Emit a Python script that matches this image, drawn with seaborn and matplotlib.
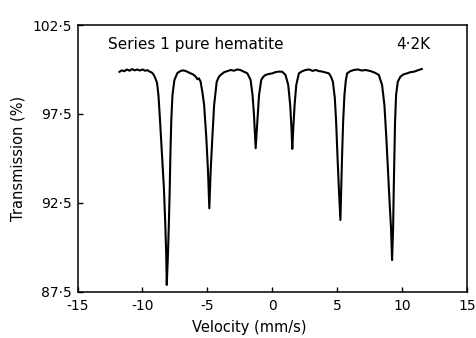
import matplotlib
matplotlib.use("Agg")
import matplotlib.pyplot as plt
import seaborn as sns
import pandas as pd

# Data (velocity in mm/s, transmission in %)
velocity = [
    -11.79, -11.6, -11.4, -11.2, -11.0, -10.8, -10.6, -10.4, -10.2, -10.0, -9.8, -9.62,
    -9.45, -9.31, -9.18, -9.08, -8.98, -8.88, -8.77, -8.65, -8.50, -8.35, -8.25, -8.17,
    -8.13, -8.04, -7.96, -7.90, -7.85, -7.78, -7.69, -7.54, -7.31, -7.1,
    -6.9, -6.7, -6.54, -6.35, -6.1, -5.9, -5.77,
    -5.65, -5.52, -5.38, -5.25, -5.08, -4.95, -4.85, -4.75, -4.62, -4.48, -4.28, -4.1,
    -3.98, -3.7, -3.46, -3.2, -2.95, -2.7, -2.46, -2.2, -1.92, -1.67, -1.52, -1.41,
    -1.28, -1.15, -1.02, -0.85, -0.68, -0.52, -0.25, 0.0, 0.25, 0.5, 0.77, 1.02, 1.23,
    1.38, 1.48, 1.54, 1.62, 1.72, 1.85, 2.05, 2.3, 2.56, 2.85, 3.1, 3.35, 3.59, 3.85,
    4.1, 4.36, 4.52, 4.67, 4.82, 4.92, 5.02, 5.13, 5.25, 5.31, 5.38, 5.46, 5.56, 5.67,
    5.77, 6.0, 6.28, 6.6, 6.9, 7.2, 7.56, 7.9, 8.21, 8.46, 8.64, 8.79, 8.92, 9.05, 9.15,
    9.23, 9.31, 9.36, 9.41, 9.46, 9.54, 9.67, 9.87, 10.1, 10.38, 10.65, 10.9, 11.2, 11.54,
]
transmission = [
    99.86, 99.95, 99.90, 100.0, 99.93, 100.02, 99.95, 100.0, 99.94, 100.0, 99.93, 99.96,
    99.88, 99.84, 99.75, 99.62, 99.45, 99.25, 98.56, 97.16, 95.19, 93.33, 91.42, 89.56,
    87.88, 89.56, 91.53, 93.33, 95.19, 97.16, 98.56, 99.41, 99.80, 99.90,
    99.95, 99.92, 99.87, 99.80, 99.72, 99.60, 99.45,
    99.50, 99.31, 98.70, 98.00, 96.14, 94.25, 92.19, 94.25, 96.14, 98.00, 99.31, 99.60,
    99.69, 99.85, 99.91, 99.97, 99.93, 100.0, 99.97, 99.88, 99.78, 99.41, 98.56, 97.44,
    95.57, 97.06, 98.56, 99.41, 99.60, 99.69, 99.75, 99.78, 99.85, 99.88, 99.87, 99.69, 99.13,
    98.00, 96.69, 95.53, 96.69, 98.00, 99.13, 99.78, 99.90, 99.97, 100.0, 99.92, 99.97, 99.91, 99.88,
    99.83, 99.78, 99.60, 99.31, 98.38, 97.06, 95.19, 93.33, 91.53, 93.33, 95.19, 97.06, 98.56, 99.41,
    99.78, 99.90, 99.97, 100.0, 99.94, 99.97, 99.91, 99.82, 99.69, 99.13, 98.00, 96.14, 94.25, 92.38, 91.08,
    89.28, 91.08, 93.33, 95.19, 97.06, 98.56, 99.31, 99.59, 99.72, 99.78, 99.85, 99.87, 99.95, 100.03,
]

x_ticks = [-15, -10, -5, 0, 5, 10, 15]
x_tick_labels = ["-15", "-10", "-5", "0", "5", "10", "15"]
y_ticks = [87.5, 92.5, 97.5, 102.5]
y_tick_labels = ["87·5", "92·5", "97·5", "102·5"]

df = pd.DataFrame({"Velocity": velocity, "Transmission": transmission})

sns.set_style("ticks")
plt.rcParams["font.family"] = ["DejaVu Sans"]
plt.rcParams["text.color"] = "black"
plt.rcParams["axes.labelcolor"] = "black"
plt.rcParams["xtick.color"] = "black"
plt.rcParams["ytick.color"] = "black"

fig = plt.figure(figsize=(4.76, 3.38), dpi=100)
ax = fig.add_axes([0.163, 0.137, 0.818, 0.789])

sns.lineplot(data=df, x="Velocity", y="Transmission", ax=ax, color="black",
             linewidth=1.5, estimator=None, sort=False)

ax.set_xlim(-15, 15)
ax.set_ylim(87.5, 102.5)
ax.set_xticks(x_ticks)
ax.set_xticklabels(x_tick_labels)
ax.set_yticks(y_ticks)
ax.set_yticklabels(y_tick_labels)
ax.tick_params(direction="in", length=3.5, width=1, labelsize=10,
               colors="black", labelcolor="black")
ax.tick_params(axis="x", pad=5)
ax.tick_params(axis="y", pad=4)
for s in ax.spines.values():
    s.set_visible(True)
    s.set_linewidth(1.1)
    s.set_color("black")

ax.set_xlabel("Velocity (mm/s)", fontsize=10.5, color="black")
ax.xaxis.set_label_coords(0.44, -0.105)
ax.set_ylabel("Transmission (%)", fontsize=10.5, labelpad=5, color="black")

ax.text(0.077, 0.955, "Series 1 pure hematite", transform=ax.transAxes,
        fontsize=11, va="top", ha="left", color="black")
ax.text(0.905, 0.955, "4·2K", transform=ax.transAxes,
        fontsize=11, va="top", ha="right", color="black")

fig.savefig("out.png", dpi=100)
